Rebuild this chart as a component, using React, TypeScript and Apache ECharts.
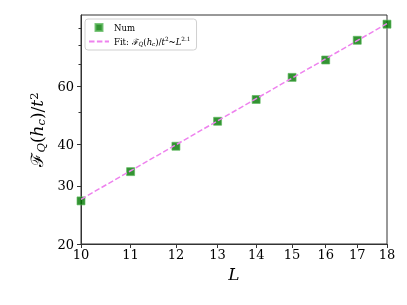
import React, { useEffect, useRef } from "react";
import * as echarts from "echarts";

const L = [10, 11, 12, 13, 14, 15, 16, 17, 18];
const numValues = [27.0, 33.1, 39.5, 47.0, 54.7, 63.8, 72.0, 82.6, 92.4];
const fitL = [10, 18];
const fitValues = [27.3, 92.8];
const xTicks = [10, 11, 12, 13, 14, 15, 16, 17, 18];
const yMajorTicks = [20, 30, 40, 60];
const yMinorTicks = [50, 70, 80, 90];
const yMin = 20;
const yMax = 98.5;

const serif = "DejaVu Serif, Liberation Serif, serif";

export default function App() {
  const ref = useRef<HTMLDivElement>(null);
  useEffect(() => {
    const chart = echarts.init(ref.current!, null, { renderer: "svg" });
    const rich = (base: number) => ({
      n: { fontFamily: serif, fontSize: base, color: "#000" },
      f: { fontFamily: serif, fontSize: base, color: "#000" },
      i: { fontFamily: serif, fontSize: base, fontStyle: "italic", color: "#000" },
      s: { fontFamily: serif, fontSize: base * 0.68, fontStyle: "italic", color: "#000", verticalAlign: "bottom" },
      p: { fontFamily: serif, fontSize: base * 0.68, color: "#000", verticalAlign: "top" },
    });
    chart.setOption({
      animation: false,
      grid: {
        left: 81,
        right: 20,
        top: 15,
        bottom: 61,
        show: true,
        borderColor: "#333",
        borderWidth: 1,
      },
      legend: {
        left: 85,
        top: 19,
        orient: "vertical",
        selectedMode: false,
        itemWidth: 20,
        itemHeight: 7,
        itemGap: 3,
        padding: [3, 6, 3, 3],
        backgroundColor: "rgba(255,255,255,0.85)",
        borderColor: "#d0d0d0",
        borderWidth: 1,
        borderRadius: 3,
        data: [
          { name: "Num", icon: "path://M0,0h10v10h-10z" },
          { name: "Fit", itemStyle: { color: "rgba(0,0,0,0)", borderWidth: 0, opacity: 0 } },
        ],
        formatter: (name: string) =>
          name === "Num"
            ? "{n|Num}"
            : "{n|Fit: }{f|ℱ}{s|Q}{n|(}{i|h}{s|c}{n|)/}{i|t}{p|2}{n|~}{i|L}{p|2.1}",
        textStyle: { fontFamily: serif, fontSize: 8.5, color: "#000", lineHeight: 11, rich: rich(8.5) },
      },
      xAxis: {
        type: "log",
        logBase: 10,
        min: 10,
        max: 18,
        name: "L",
        nameLocation: "middle",
        nameGap: 17,
        nameTextStyle: { fontFamily: serif, fontStyle: "italic", fontSize: 17, color: "#000" },
        axisLine: { show: true, lineStyle: { color: "#333", width: 1 } },
        axisTick: { show: true, inside: false, length: 4, customValues: xTicks, lineStyle: { color: "#333" } },
        axisLabel: { customValues: xTicks, fontFamily: serif, fontSize: 13, color: "#000", margin: 4 },
        splitLine: { show: false },
        minorTick: { show: false },
      },
      yAxis: [
        {
          type: "log",
          logBase: 10,
          min: yMin,
          max: yMax,
          name: "{f|ℱ}{s|Q}{n|(}{i|h}{s|c}{n|)/}{i|t}{p|2}",
          nameLocation: "middle",
          nameRotate: 90,
          nameGap: 16,
          nameTextStyle: { fontFamily: serif, fontSize: 17, color: "#000", lineHeight: 19, rich: rich(17) },
          axisLine: { show: true, lineStyle: { color: "#333", width: 1 } },
          axisTick: { show: true, inside: false, length: 4, customValues: yMajorTicks, lineStyle: { color: "#333" } },
          axisLabel: { customValues: yMajorTicks, fontFamily: serif, fontSize: 13, color: "#000", margin: 7 },
          splitLine: { show: false },
          minorTick: { show: false },
        },
        {
          type: "log",
          logBase: 10,
          min: yMin,
          max: yMax,
          position: "left",
          axisLine: { show: false },
          axisTick: { show: true, inside: false, length: 2.5, customValues: yMinorTicks, lineStyle: { color: "#333" } },
          axisLabel: { show: false },
          splitLine: { show: false },
          minorTick: { show: false },
        },
      ],
      series: [
        {
          name: "Num",
          type: "scatter",
          yAxisIndex: 0,
          symbol: "rect",
          symbolSize: 8,
          itemStyle: { color: "#007800", borderColor: "#5cb85c", borderWidth: 0.8 },
          data: L.map((l, k) => [l, numValues[k]]),
          z: 2,
        },
        {
          name: "Fit",
          type: "line",
          yAxisIndex: 0,
          symbol: "none",
          lineStyle: { type: [5.5, 2.4], color: "#ee82ee", width: 1.5 },
          itemStyle: { color: "#ee82ee" },
          data: fitL.map((l, k) => [l, fitValues[k]]),
          z: 3,
        },
      ],
    });
    return () => chart.dispose();
  }, []);
  return <div ref={ref} style={{ position: "fixed", left: 0, top: 0, width: 407, height: 305 }} />;
}
